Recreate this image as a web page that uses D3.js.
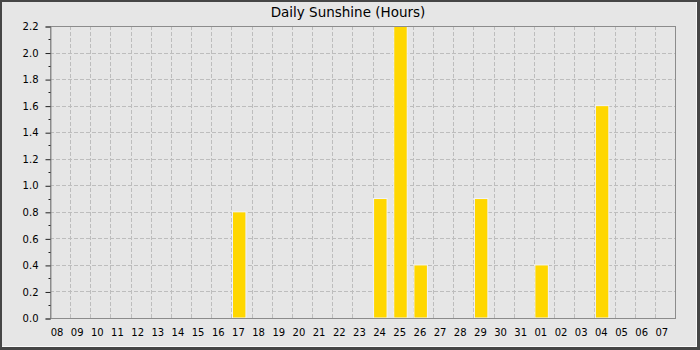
<!DOCTYPE html>
<meta charset="utf-8">
<script src="https://d3js.org/d3.v7.min.js"></script>
<style>
  body { margin: 0; }
  text { font-family: "DejaVu Sans", sans-serif; }
</style>
<div id="chart"></div>
<script>
  // days shown along the bottom (end of one month into the next)
  var days = ["08","09","10","11","12","13","14","15","16","17","18","19","20","21","22","23",
              "24","25","26","27","28","29","30","31","01","02","03","04","05","06","07"];
  // sunshine hours per day
  var hours = [0,0,0,0,0,0,0,0,0,0.8,0,0,0,0,0,0,
               0.9,2.2,0.4,0,0,0.9,0,0,0.4,0,0,1.6,0,0,0];
  var yTicks = [0,0.2,0.4,0.6,0.8,1.0,1.2,1.4,1.6,1.8,2.0,2.2];
  var yMinor = [0.1,0.3,0.5,0.7,0.9,1.1,1.3,1.5,1.7,1.9,2.1];

  var W = 700, H = 350;
  var plot = {left: 50, right: 675, top: 26, bottom: 318};

  var svg = d3.select("#chart").append("svg")
      .attr("width", W).attr("height", H);

  // frame with a bit of bevel
  svg.append("rect").attr("width", W).attr("height", H).attr("fill", "#464646");
  svg.append("rect").attr("x", 2).attr("y", 2).attr("width", W - 5).attr("height", H - 5).attr("fill", "#fafafa");
  svg.append("rect").attr("x", 2).attr("y", 2).attr("width", W - 6).attr("height", H - 6).attr("fill", "#e6e6e6");

  var x = d3.scaleBand().domain(days).range([plot.left, plot.right]).padding(0);
  var y = d3.scaleLinear().domain([0, 2.2]).range([plot.bottom, plot.top]);

  // grid
  var grid = svg.append("g")
      .attr("stroke", "#bdbdbd").attr("stroke-dasharray", "4,2").attr("stroke-width", 1);
  grid.selectAll(".gh").data(yTicks.slice(1, -1)).join("line")
      .attr("x1", plot.left).attr("x2", plot.right)
      .attr("y1", function(d) { return Math.round(y(d)) + 0.5; })
      .attr("y2", function(d) { return Math.round(y(d)) + 0.5; });
  grid.selectAll(".gv").data(days.slice(1)).join("line")
      .attr("y1", plot.top).attr("y2", plot.bottom)
      .attr("x1", function(d) { return Math.round(x(d)) + 0.5; })
      .attr("x2", function(d) { return Math.round(x(d)) + 0.5; });

  // bars
  svg.append("g").selectAll("rect").data(hours).join("rect")
      .attr("x", function(d, i) { return x(days[i]) + 1; })
      .attr("width", 13.5)
      .attr("y", function(d) { return y(d); })
      .attr("height", function(d) { return plot.bottom - y(d); })
      .attr("fill", "#ffd700")
      .attr("stroke", function(d) { return d > 0 ? "#f2f4ff" : "none"; })
      .attr("stroke-width", 1);

  // plot outline
  svg.append("rect")
      .attr("x", plot.left + 0.5).attr("y", plot.top + 0.5)
      .attr("width", plot.right - plot.left).attr("height", plot.bottom - plot.top)
      .attr("fill", "none").attr("stroke", "#8c8c8c");

  // y axis
  var yAxis = svg.append("g")
      .attr("transform", "translate(" + (plot.left + 0.5) + ",0.5)")
      .call(d3.axisLeft(y).tickValues(yTicks).tickFormat(d3.format(".1f")).tickSize(5).tickPadding(7));
  yAxis.select(".domain").attr("stroke", "#8c8c8c");
  yAxis.selectAll("text").attr("font-size", 10).attr("fill", "#000");
  yAxis.selectAll("line").attr("stroke", "#222");
  yAxis.selectAll(".minor").data(yMinor).join("line")
      .attr("class", "minor")
      .attr("x1", -2).attr("x2", 0)
      .attr("y1", function(d) { return Math.round(y(d)); })
      .attr("y2", function(d) { return Math.round(y(d)); })
      .attr("stroke", "#222");

  // x labels
  svg.append("g").selectAll("text").data(days).join("text")
      .attr("x", function(d) { return x(d) + 7; })
      .attr("y", 336)
      .attr("text-anchor", "middle")
      .attr("font-size", 10)
      .text(function(d) { return d; });

  // title
  svg.append("text")
      .attr("x", 348).attr("y", 16.5)
      .attr("text-anchor", "middle")
      .attr("font-size", 13.5)
      .text("Daily Sunshine (Hours)");
</script>
